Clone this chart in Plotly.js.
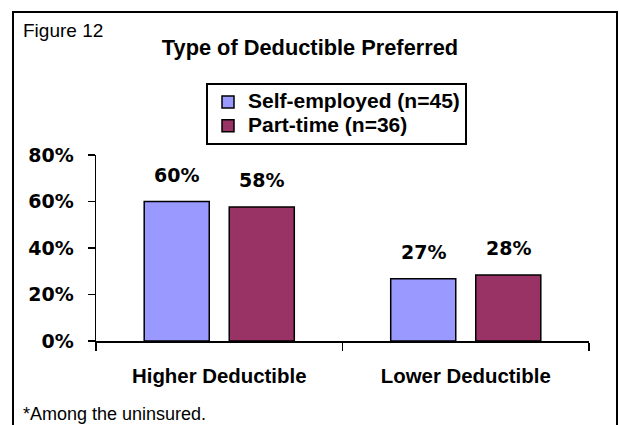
<!DOCTYPE html>
<html>
<head>
<meta charset="utf-8">
<script src="https://cdn.plot.ly/plotly-3.0.1.min.js"></script>
<style>
  html, body { margin: 0; padding: 0; background: #ffffff; }
  #chart { width: 619px; height: 425px; }
</style>
</head>
<body>
<div id="chart"></div>
<script>
// ---- data ----
const categories = ['Higher Deductible', 'Lower Deductible'];
const seriesNames = ['Self-employed (n=45)', 'Part-time (n=36)'];
const selfEmployed = [60, 26.8];
const partTime = [57.6, 28.4];
const yTickValues = [0, 20, 40, 60, 80];
const yTickLabels = ['0%', '20%', '40%', '60%', '80%'];
const titleText = 'Type of Deductible Preferred';
const figureLabel = 'Figure 12';
const footnote = '*Among the uninsured.';

const seriesValues = [selfEmployed, partTime];
const seriesColors = ['#9999FF', '#993366'];

const W = 619, H = 425;
const M = { l: 96, r: 30, t: 155, b: 84 };
const pw = W - M.l - M.r, ph = H - M.t - M.b;
const px2x = v => (v - M.l) / pw;
const px2y = v => (H - M.b - v) / ph;

const baseFont = 'Liberation Sans, Arial, sans-serif';
const pctFont = 'DejaVu Sans, Verdana, sans-serif';

const traces = seriesNames.map((name, i) => ({
  type: 'bar',
  name: '<span style="font-size:21px">' + name + '</span>',
  x: categories,
  y: seriesValues[i],
  marker: { color: seriesColors[i], line: { color: '#000000', width: 1.5 } },
  hoverinfo: 'skip'
}));

// data labels, positioned from the data values
const offsets = [-42.5, 42.5];
const annotations = [];
seriesValues.forEach((vals, i) => {
  vals.forEach((v, j) => {
    annotations.push({
      x: categories[j], y: v, xref: 'x', yref: 'y',
      text: Math.round(v) + '%', showarrow: false,
      xshift: offsets[i], yshift: 27, yanchor: 'middle', xanchor: 'center',
      font: { family: pctFont, size: 19, color: '#000000', weight: 'bold' }
    });
  });
});
annotations.push({
  text: figureLabel, xref: 'paper', yref: 'paper',
  x: px2x(21), y: px2y(31), xanchor: 'left', yanchor: 'middle', showarrow: false,
  font: { family: baseFont, size: 19, color: '#000000' }
});
annotations.push({
  text: footnote, xref: 'paper', yref: 'paper',
  x: px2x(21), y: px2y(414), xanchor: 'left', yanchor: 'middle', showarrow: false,
  font: { family: baseFont, size: 18, color: '#000000' }
});

const layout = {
  width: W, height: H,
  margin: M,
  paper_bgcolor: '#ffffff',
  plot_bgcolor: '#ffffff',
  barmode: 'group',
  bargap: 0.31,
  bargroupgap: 0.235,
  showlegend: true,
  title: {
    text: '<b>' + titleText + '</b>',
    xref: 'container', yref: 'container',
    x: 310 / W, y: 1 - 47 / H, xanchor: 'center', yanchor: 'middle',
    font: { family: baseFont, size: 21.8, color: '#000000' }
  },
  legend: {
    x: px2x(206), y: px2y(83), xanchor: 'left', yanchor: 'top',
    bgcolor: '#ffffff', bordercolor: '#000000', borderwidth: 2,
    font: { family: baseFont, size: 16, color: '#000000', weight: 'bold' },
    traceorder: 'normal'
  },
  xaxis: {
    type: 'category',
    showline: true, linecolor: '#000000', linewidth: 1.5,
    ticks: 'outside', tickson: 'boundaries', ticklen: 8, tickwidth: 1.5, tickcolor: '#000000',
    showgrid: false, zeroline: false,
    ticklabelstandoff: 16,
    tickfont: { family: baseFont, size: 20.4, color: '#000000', weight: 'bold' },
    fixedrange: true
  },
  yaxis: {
    range: [0, 80],
    tickvals: yTickValues, ticktext: yTickLabels,
    showline: true, linecolor: '#000000', linewidth: 1.5,
    ticks: 'outside', ticklen: 7, tickwidth: 1.5, tickcolor: '#000000',
    showgrid: false, zeroline: false,
    ticklabelstandoff: 10,
    tickfont: { family: pctFont, size: 19, color: '#000000', weight: 'bold' },
    fixedrange: true
  },
  annotations: annotations,
  shapes: [{
    type: 'path', xref: 'paper', yref: 'paper',
    path: 'M ' + px2x(13) + ' ' + px2y(440) + ' L ' + px2x(13) + ' ' + px2y(12) +
          ' L ' + px2x(617) + ' ' + px2y(12) + ' L ' + px2x(617) + ' ' + px2y(440),
    line: { color: '#000000', width: 2 }
  }]
};

Plotly.newPlot('chart', traces, layout, { displayModeBar: false, staticPlot: true });
</script>
</body>
</html>
